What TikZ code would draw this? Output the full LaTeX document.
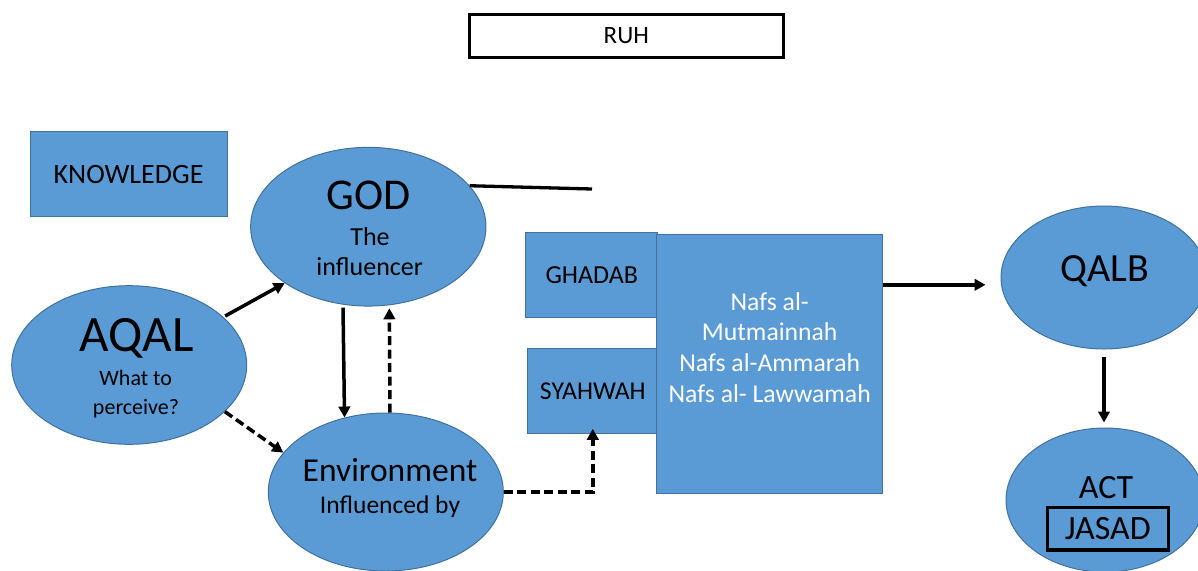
\documentclass[tikz,border=0pt]{standalone}
\usepackage{fontspec}
\setmainfont{Carlito}
\usetikzlibrary{shapes.geometric,arrows.meta}
\definecolor{nodefill}{HTML}{5B9BD5}
\definecolor{nodeline}{HTML}{41719C}
\newcommand{\fsz}[1]{\fontsize{#1}{#1}\selectfont}
\begin{document}
\begin{tikzpicture}[x=1pt,y=-1pt,
  blob/.style={ellipse,draw=nodeline,fill=nodefill,line width=1pt,inner sep=0pt},
  box/.style={rectangle,draw=nodeline,fill=nodefill,line width=1pt,inner sep=0pt,text=black},
  blackbox/.style={rectangle,draw=black,inner sep=0pt,text=black},
  txt/.style={anchor=base,inner sep=0pt,text=black},
  wtxt/.style={anchor=base,inner sep=0pt,text=white,font=\fsz{25.7}},
  arr/.style={line width=3.5pt,-{Triangle[length=11pt,width=11.5pt]}},
  dsh/.style={dash pattern=on 9pt off 4.5pt},
  plain/.style={line width=3.3pt}
]
\useasboundingbox (0,0) rectangle (1198,570);
\clip (0,0) rectangle (1198,570);

% title
\node[blackbox,fill=white,line width=3.5pt,minimum width=314pt,minimum height=43pt,font=\fsz{25}] (ruh) at (626.3,35.8) {RUH};

% left group
\node[box,minimum width=197pt,minimum height=85pt,font=\fsz{28}] (know) at (128.5,174.2) {KNOWLEDGE};
\node[blob,minimum width=235.3pt,minimum height=158.7pt] (god) at (368.3,226.7) {};
\node[blob,minimum width=235pt,minimum height=158.6pt] (aqal) at (129.2,365) {};
\node[blob,minimum width=235pt,minimum height=158pt] (env) at (385.8,492) {};

\node[txt,font=\fsz{44}] (godt) at (368.7,209.3) {GOD};
\node[txt,font=\fsz{26}] (godt2) at (370,245) {The};
\node[txt,font=\fsz{26}] (godt3) at (369.7,275.7) {influencer};

\node[txt,font=\fsz{51}] (aqalt) at (136.3,351.7) {AQAL};
\node[txt,font=\fsz{22}] (aqalt2) at (135.7,385.7) {What to};
\node[txt,font=\fsz{22}] (aqalt3) at (136,414) {perceive?};

\node[txt,font=\fsz{33.5}] (envt) at (390,481.7) {Environment};
\node[txt,font=\fsz{25.5}] (envt2) at (390,513.3) {Influenced by};

% middle group
\node[box,minimum width=131.7pt,minimum height=85pt,font=\fsz{26}] (ghadab) at (591.8,275.2) {GHADAB};
\node[box,minimum width=131pt,minimum height=85pt,font=\fsz{25.7}] (syah) at (592.8,390.8) {SYAHWAH};
\node[box,minimum width=226pt,minimum height=259pt] (nafs) at (769.7,363.8) {};
\node[wtxt] (nafs1) at (769.7,310.7) {Nafs al-};
\node[wtxt] (nafs2) at (769.7,340.7) {Mutmainnah};
\node[wtxt] (nafs3) at (769.7,371.7) {Nafs al-Ammarah};
\node[wtxt] (nafs4) at (769.7,402.3) {Nafs al- Lawwamah};

% right group
\node[blob,minimum width=206pt,minimum height=143pt] (qalb) at (1104,277.5) {};
\node[txt,font=\fsz{40}] (qalbt) at (1105,281.7) {QALB};
\node[blob,minimum width=198pt,minimum height=144pt] (act) at (1105,500) {};
\node[txt,font=\fsz{34}] (actt) at (1106,498.3) {ACT};
\node[blackbox,line width=3.2pt,minimum width=121pt,minimum height=42.5pt,font=\fsz{34}] (jasad) at (1107.8,528.8) {JASAD};

% connectors
\coordinate (godend) at (592,189);
\draw[plain] (god.22) -- (godend);

\draw[arr,shorten <=2pt] (aqal.27) -- (god.214);
\draw[arr,dsh] (aqal.-26) -- (env.159);
\draw[arr,shorten <=3pt] (god.252.6) -- (env.119.5);
\draw[arr,dsh,shorten >=3pt] (env.87.7) -- (god.-75.2);
\draw[arr,dsh,shorten >=-5pt] (env.east) -| (syah.south);
\draw[arr,shorten >=15pt] ([yshift=79pt]nafs.east) -- ([yshift=79pt]nafs.east -| qalb.west);
\draw[arr,shorten <=7pt,shorten >=5pt] (qalb.south) -- (qalb.south |- act.north);
\end{tikzpicture}
\end{document}
